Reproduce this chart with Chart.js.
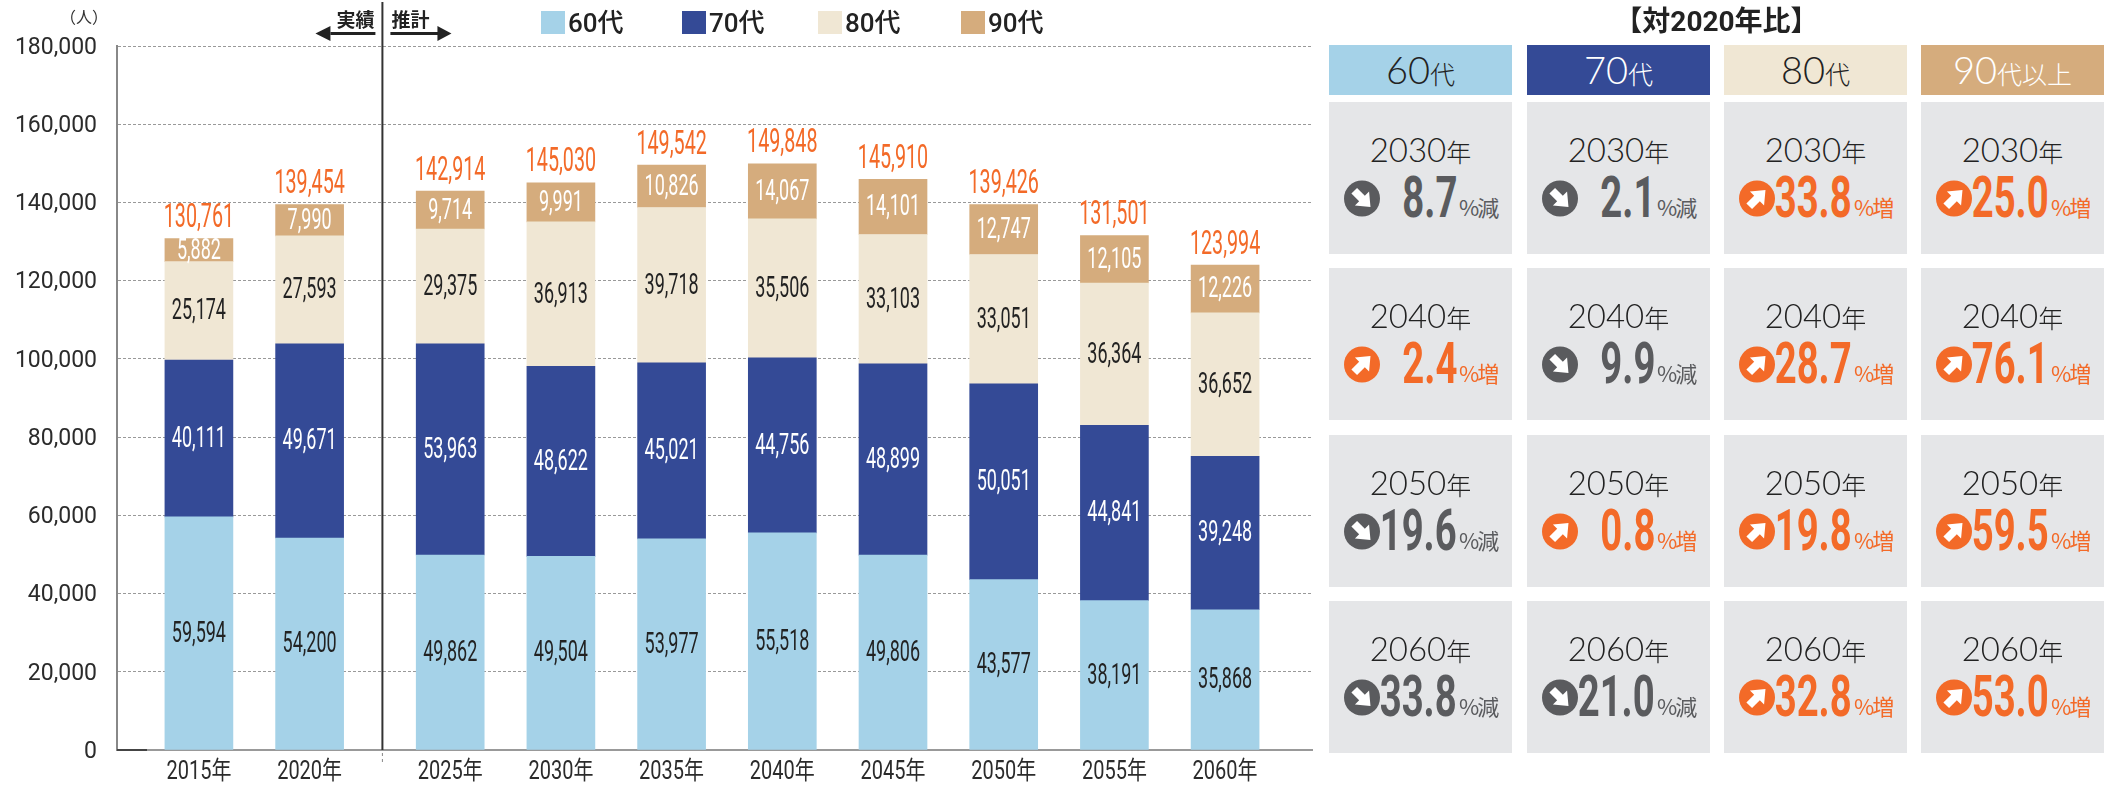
<!DOCTYPE html>
<html lang="ja">
<head>
<meta charset="utf-8">
<script src="https://cdn.jsdelivr.net/npm/chart.js@4"></script>
<style>
html, body { margin: 0; padding: 0; background: #fff; }
#wrap { position: relative; width: 2111px; height: 785px; overflow: hidden; }
#chart { position: absolute; left: 0; top: 0; }
#panel div, #panel span { position: absolute; white-space: nowrap; }
#panel svg { position: absolute; }
.title { left: 1329px; width: 775px; top: 6px; height: 32px; text-align: center;
  font: 700 28px/32px Roboto, "Noto Sans CJK JP"; color: #222; }
.head { top: 45px; width: 183px; height: 48px; padding-bottom: 2px; text-align: center; font: 300 38px/48px Lato, "Noto Sans CJK JP"; }
.head span { position: static !important; font-size: 25px; }
.card { width: 183px; height: 152px; background: #e5e6e8; }
.year { left: 0; width: 183px; top: 26px; height: 42px; text-align: center; color: #222;
  font: 300 33px/42px Lato, "Noto Sans CJK JP"; }
.year span { position: static !important; font-size: 25px; }
.num { right: 55px; top: 65px; height: 60px; font: 700 58px/60px Roboto;
  transform: scaleX(.66); transform-origin: right center; }
.unit { left: 130px; top: 92px; height: 24px; font: 400 22px/24px "Noto Sans CJK JP"; letter-spacing: -2px; }
</style>
</head>
<body>
<div id="wrap">
  <canvas id="chart" width="2111" height="785"></canvas>
  <div id="panel"></div>
</div>
<script>
var years = ["2015年", "2020年", "2025年", "2030年", "2035年", "2040年", "2045年", "2050年", "2055年", "2060年"];
var age60 = [59594, 54200, 49862, 49504, 53977, 55518, 49806, 43577, 38191, 35868];
var age70 = [40111, 49671, 53963, 48622, 45021, 44756, 48899, 50051, 44841, 39248];
var age80 = [25174, 27593, 29375, 36913, 39718, 35506, 33103, 33051, 36364, 36652];
var age90 = [5882, 7990, 9714, 9991, 10826, 14067, 14101, 12747, 12105, 12226];
var totals = [130761, 139454, 142914, 145030, 149542, 149848, 145910, 139426, 131501, 123994];

var panelYears = ["2030", "2040", "2050", "2060"];
var panelHeads = [["60", "代"], ["70", "代"], ["80", "代"], ["90", "代以上"]];
var change60 = [-8.7, 2.4, -19.6, -33.8];
var change70 = [-2.1, -9.9, 0.8, -21.0];
var change80 = [33.8, 28.7, 19.8, 32.8];
var change90 = [25.0, 76.1, 59.5, 53.0];

var COLORS = ["#a5d2e8", "#344a96", "#f0e7d4", "#d5ac7d"];
var LABEL_COLORS = ["#222", "#fff", "#222", "#fff"];
var ORANGE = "#f36a28";
var GRAY = "#5a5b5e";
var CONDENSED = 'Roboto, "Noto Sans CJK JP"';

// category axis with a wider gap where 実績 turns into 推計
class GapCategoryScale extends Chart.CategoryScale {
    getPixelForValue(value) {
        if (typeof value !== "number") value = this.parse(value);
        var unit = this.width / 10.795;
        return this.left + (0.74 + value + (value >= 2 ? 0.27 : 0)) * unit;
    }
}
GapCategoryScale.id = "gapCategory";
GapCategoryScale.defaults = {};
Chart.register(GapCategoryScale);

function squeezed(ctx, text, x, y, font, color, sx) {
    ctx.save();
    ctx.translate(x, y);
    ctx.scale(sx, 1);
    ctx.font = font;
    ctx.fillStyle = color;
    ctx.textAlign = "center";
    ctx.textBaseline = "middle";
    ctx.fillText(text, 0, 0);
    ctx.restore();
}

var barLabels = {
    id: "barLabels",
    afterDatasetsDraw: function (chart) {
        var ctx = chart.ctx;
        chart.data.datasets.forEach(function (ds, i) {
            chart.getDatasetMeta(i).data.forEach(function (bar, j) {
                var c = bar.getCenterPoint();
                squeezed(ctx, ds.data[j].toLocaleString("en-US"), c.x, c.y + 1, "400 30px " + CONDENSED, LABEL_COLORS[i], 0.6);
                if (i === 3) {
                    squeezed(ctx, totals[j].toLocaleString("en-US"), c.x, bar.y - 20, "400 34px " + CONDENSED, ORANGE, 0.58);
                }
            });
        });
    }
};

var furniture = {
    id: "furniture",
    afterDraw: function (chart) {
        var ctx = chart.ctx, area = chart.chartArea, xs = chart.scales.x;
        var divX = (xs.getPixelForValue(1) + xs.getPixelForValue(2)) / 2 + 2.5;

        // year labels, narrowed like the original type
        xs.ticks.forEach(function (tick, i) {
            squeezed(ctx, tick.label, xs.getPixelForTick(i), 773, "400 25px " + CONDENSED, "#2b2b2b", 0.8);
        });

        // 実績 / 推計 divider
        ctx.save();
        ctx.strokeStyle = "#333";
        ctx.lineWidth = 2;
        ctx.beginPath();
        ctx.moveTo(divX, 2);
        ctx.lineTo(divX, area.bottom);
        ctx.stroke();
        ctx.lineWidth = 1;
        ctx.strokeStyle = "#888";
        ctx.setLineDash([3, 3]);
        ctx.beginPath();
        ctx.moveTo(divX, area.bottom + 3);
        ctx.lineTo(divX, area.bottom + 14);
        ctx.stroke();
        ctx.setLineDash([]);

        // darker start of the baseline
        ctx.strokeStyle = "#444";
        ctx.lineWidth = 2;
        ctx.beginPath();
        ctx.moveTo(area.left, area.bottom);
        ctx.lineTo(area.left + 30, area.bottom);
        ctx.stroke();

        // arrows
        ctx.fillStyle = "#222";
        ctx.fillRect(divX - 52, 32, 45, 3);
        ctx.beginPath();
        ctx.moveTo(divX - 67, 33.5);
        ctx.lineTo(divX - 52, 26);
        ctx.lineTo(divX - 52, 41);
        ctx.fill();
        ctx.fillRect(divX + 8, 32, 48, 3);
        ctx.beginPath();
        ctx.moveTo(divX + 69, 33.5);
        ctx.lineTo(divX + 55, 26);
        ctx.lineTo(divX + 55, 41);
        ctx.fill();

        ctx.font = '700 19px "Noto Sans CJK JP"';
        ctx.textBaseline = "middle";
        ctx.textAlign = "right";
        ctx.fillText("実績", divX - 8, 20);
        ctx.textAlign = "left";
        ctx.fillText("推計", divX + 9, 20);

        // unit
        ctx.font = '400 16px "Noto Sans CJK JP"';
        ctx.fillStyle = "#333";
        ctx.fillText("（人）", 60, 17);

        // legend
        var legendX = [541, 682, 818, 961];
        chart.data.datasets.forEach(function (ds, i) {
            ctx.fillStyle = ds.backgroundColor;
            ctx.fillRect(legendX[i], 11, 24, 23);
            ctx.fillStyle = "#222";
            ctx.font = '500 26px Roboto, "Noto Sans CJK JP"';
            ctx.fillText(ds.label, legendX[i] + 27, 25);
        });
        ctx.restore();
    }
};

new Chart(document.getElementById("chart"), {
    type: "bar",
    data: {
        labels: years,
        datasets: [
            { label: "60代", data: age60, backgroundColor: COLORS[0] },
            { label: "70代", data: age70, backgroundColor: COLORS[1] },
            { label: "80代", data: age80, backgroundColor: COLORS[2] },
            { label: "90代", data: age90, backgroundColor: COLORS[3] }
        ]
    },
    plugins: [barLabels, furniture],
    options: {
        responsive: false,
        animation: false,
        devicePixelRatio: 1,
        barThickness: 68,
        layout: { padding: { left: 0, right: 799, top: 46, bottom: 0 }, autoPadding: false },
        plugins: { legend: { display: false }, tooltip: { enabled: false } },
        scales: {
            x: {
                type: "gapCategory",
                stacked: true,
                offset: true,
                afterFit: function (scale) { scale.height = 35; },
                grid: { display: false },
                border: { color: "#999", width: 2 },
                ticks: { display: false }
            },
            y: {
                stacked: true,
                min: 0,
                max: 180000,
                afterFit: function (scale) { scale.width = 117; },
                grid: { color: "#999", lineWidth: 1, tickLength: 0 },
                border: { color: "#888", width: 2, dash: [3, 2] },
                ticks: {
                    stepSize: 20000,
                    padding: 20,
                    labelOffset: 2,
                    color: "#2b2b2b",
                    font: { family: "Roboto", size: 23, weight: "400" },
                    callback: function (v) { return v.toLocaleString("en-US"); }
                }
            }
        }
    }
});

// right hand table
var panel = document.getElementById("panel");
var colX = [1329, 1527, 1724, 1921];
var rowY = [102, 268, 435, 601];
var headInk = ["#222", "#fff", "#222", "#fff"];
var changes = [change60, change70, change80, change90];

function arrowBadge(up, color) {
    return '<svg width="36" height="37" viewBox="-18 -18 36 36" style="left:15px;top:78px">' +
        '<circle r="18" fill="' + color + '"/>' +
        '<polygon fill="#fff" transform="rotate(' + (up ? 45 : 135) + ')" ' +
        'points="0,-12 10,0 4,0 4,11 -4,11 -4,0 -10,0"/></svg>';
}

var html = '<div class="title">【対2020年比】</div>';
colX.forEach(function (x, c) {
    html += '<div class="head" style="left:' + x + 'px;background:' + COLORS[c] + ';color:' + headInk[c] + '">' +
        panelHeads[c][0] + '<span>' + panelHeads[c][1] + '</span></div>';
    rowY.forEach(function (y, r) {
        var v = changes[c][r], up = v > 0, color = up ? ORANGE : GRAY;
        html += '<div class="card" style="left:' + x + 'px;top:' + y + 'px">' +
            '<div class="year">' + panelYears[r] + '<span>年</span></div>' +
            arrowBadge(up, color) +
            '<div class="num" style="color:' + color + '">' + Math.abs(v).toFixed(1) + '</div>' +
            '<div class="unit" style="color:' + color + '">%' + (up ? "増" : "減") + '</div>' +
            '</div>';
    });
});
panel.innerHTML = html;
</script>
</body>
</html>
